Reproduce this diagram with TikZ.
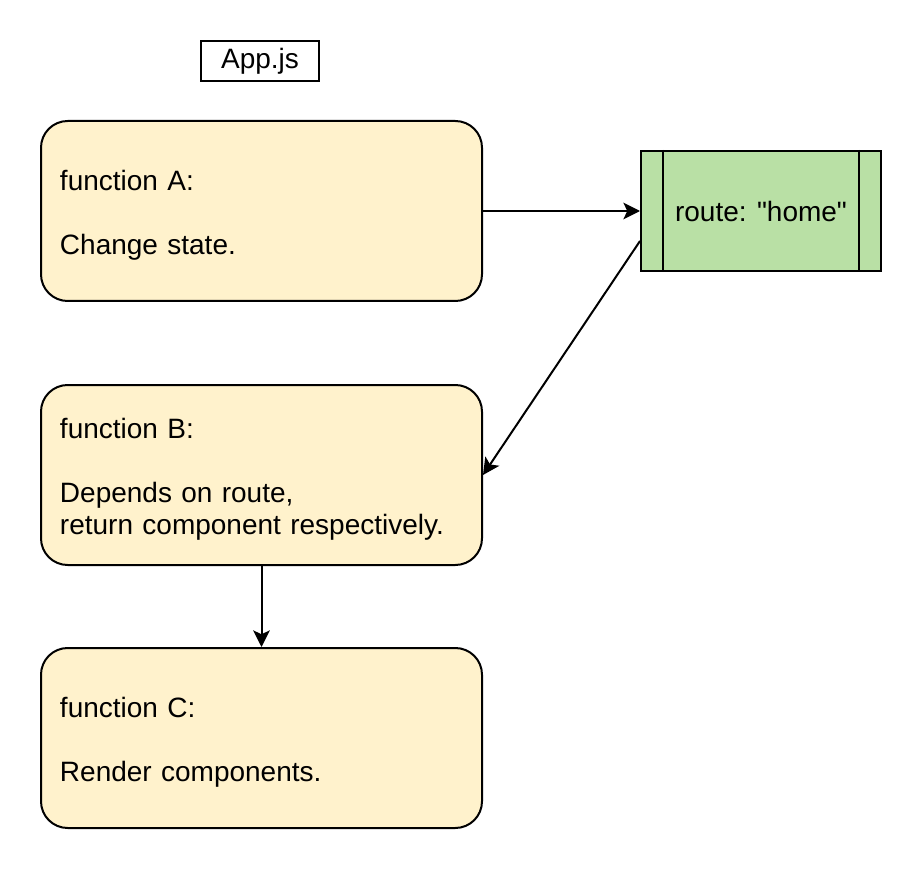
\documentclass[tikz,border=0pt]{standalone}
\usepackage{fontspec}
\setmainfont{Liberation Sans}[Ligatures=TeXOff]
\usetikzlibrary{arrows.meta}
\definecolor{fnyellow}{HTML}{FFF2CC}
\definecolor{stgreen}{HTML}{B9E0A5}
\begin{document}
\begin{tikzpicture}[
    x=0.75pt, y=-0.75pt,
    >={Stealth[length=12.5pt, width=12.5pt, inset=3pt]},
    every node/.style={font=\fontsize{21}{24}\selectfont},
    fnbox/.style={
        draw, line width=1.5pt, rounded corners=20pt,
        fill=fnyellow, minimum width=330.75pt, minimum height=135pt,
        inner xsep=14.25pt, text width=302.25pt, align=left,
        execute at begin node={\rule{0pt}{21pt}}
    },
    statebox/.style={
        draw, line width=1.5pt, fill=stgreen,
        minimum width=180pt, minimum height=90pt, align=center
    },
    titlebox/.style={
        draw, line width=1.5pt, minimum width=88.5pt, minimum height=30pt
    },
    conn/.style={->, line width=1.5pt}
]
\useasboundingbox (0,0) rectangle (922,870);

% ----------------------------------------------------------
% Titel und die drei Funktionen
% ----------------------------------------------------------
\node[titlebox] (app) at (260, 61) {App.js};

\node[fnbox] (fa) at (261.5, 211) {function A:\\[24pt]Change state.};
\node[fnbox] (fb) at (261.5, 475) {function B:\\[24pt]Depends on route,\\return component respectively.};
\node[fnbox] (fc) at (261.5, 738) {function C:\\[24pt]Render components.};

% ----------------------------------------------------------
% Zustand: route (mit seitlichen Balken)
% ----------------------------------------------------------
\node[statebox] (route) at (761, 211) {route: "home"};
\draw[line width=1.5pt] ([xshift=17.25pt]route.north west) -- ([xshift=17.25pt]route.south west);
\draw[line width=1.5pt] ([xshift=-17.25pt]route.north east) -- ([xshift=-17.25pt]route.south east);
\coordinate (routeout) at ([yshift=-22.5pt]route.west);

% Verbindungen
\draw[conn] (fa.east) -- (route.west);
\draw[conn] (routeout) -- (fb.east);
\draw[conn] (fb.south) -- (fc.north);

\end{tikzpicture}
\end{document}
